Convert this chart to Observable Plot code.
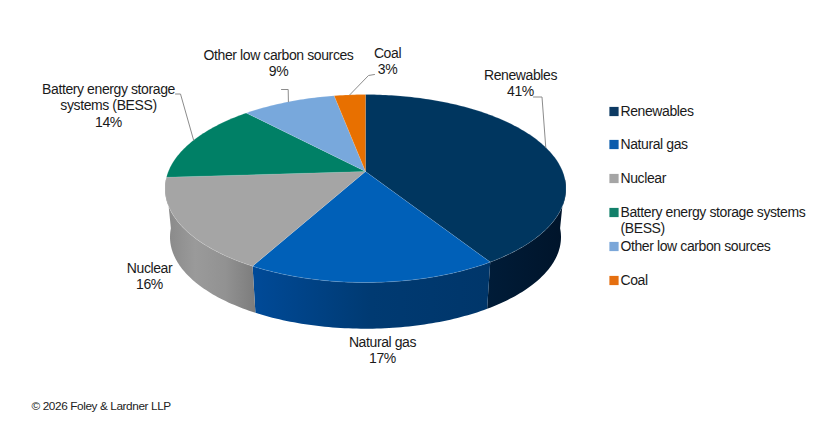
<!DOCTYPE html>
<html><head><meta charset="utf-8">
<style>html,body{margin:0;padding:0;background:#fff}svg{display:block}</style>
<script src="https://cdn.jsdelivr.net/npm/d3@7"></script>
<script src="https://cdn.jsdelivr.net/npm/@observablehq/plot@0.6"></script>
</head><body><div id="chart"></div>
<script>
const categories = ["Renewables","Natural gas","Nuclear","Battery energy storage systems (BESS)","Other low carbon sources","Coal"];
const shares = [41,17,16,14,9,3];
const colors = ["#00365f","#0060b8","#a5a5a5","#008066","#78a8dc","#e87000"];
const legendColors = ["#0c3a63","#0b5cad","#a5a5a5","#12806a","#7ba7d9","#e56f10"];
const sideStops = [["#001c38","#00142a"],["#004a98","#003a72","#00366a"],["#888888","#9a9a9a","#929292","#7c7c7c"]];
const labelText = ["Renewables\n41%","Natural gas\n17%","Nuclear\n16%","Battery energy storage\nsystems (BESS)\n14%","Other low carbon sources\n9%","Coal\n3%"];
const legendText = ["Renewables","Natural gas","Nuclear","Battery energy storage systems\n(BESS)","Other low carbon sources","Coal"];
// layout
const labelPos = [[520,82.5],[382,349.5],[149,275],[108,104.5],[278,62],[387,60]];
const elbows = [[[541.5,96.5],[533,96.5]],null,null,[[180,93.5],[175,93.5]],[[287.7,89],[281,89]],[[368,75],[374,74]]];
const legendY = [111,144,178,212,246,280];
const legendTextY = [110,143,177,219.5,245,279];
const view = {cx:365, cy:171, A:197.2, B:90.9, k:0.181, drop:49, shrink:0.975};

const project = (deg, base) => {
  const t = deg*Math.PI/180, u = Math.sin(t), v = Math.cos(t), w = 1+view.k*v;
  const s = base ? view.shrink : 1, dy = base ? view.drop : 0;
  return [view.cx + s*view.A*u/w, view.cy + dy - s*view.B*v/w];
};
const total = d3.sum(shares);
let run = 0;
const slices = categories.map((name,i)=>{ const a=run/total*360; run+=shares[i]; return {name,i,a,b:run/total*360,mid:(a+run/total*360)/2}; });
const arc = (a,b,base) => { const n=Math.max(2,Math.ceil((b-a)/1)); return d3.range(n+1).map(j=>project(a+(b-a)*j/n,base)); };
const toRows = (pts,name) => pts.map(([x,y])=>({x,y,name}));
const topRows = slices.flatMap(s=>toRows([[view.cx,view.cy],...arc(s.a,s.b,false)],s.name));
const walls = slices.map((s)=>{
  const a=Math.max(s.a,95), b=Math.min(s.b,265);
  return b>a ? toRows([...arc(a,b,false),...arc(a,b,true).reverse()],s.name) : [];
});
const leaderRows = slices.flatMap((s,i)=> elbows[i] ? [project(s.mid,false),...elbows[i]].map(([x,y])=>({x,y,name:s.name})) : []);
const labels = labelText.map((t,i)=>({t,x:labelPos[i][0],y:labelPos[i][1]}));
const legendRows = categories.map((name,i)=>({name,t:legendText[i],y:legendY[i],ty:legendTextY[i],fill:legendColors[i]}));
const font = {fontFamily:"Liberation Sans, Arial, sans-serif",fontSize:14,fill:"#1a1a1a",lineHeight:1.17};
const defs = () => {
  const d = d3.create("svg:defs");
  sideStops.forEach((st,i)=>{
    const g = d.append("linearGradient").attr("id","side"+i);
    st.forEach((c,j)=>g.append("stop").attr("offset",j/(st.length-1)).attr("stop-color",c));
  });
  return d.node();
};
const chart = Plot.plot({
  width:829,height:437,margin:0,
  style:{background:"#fff",letterSpacing:"-0.4px"},
  x:{domain:[0,829],range:[0,829],axis:null},
  y:{domain:[0,437],range:[0,437],axis:null},
  color:{domain:categories,range:colors},
  marks:[
    defs,
    ...walls.map((w,i)=>w.length?Plot.line(w,{x:"x",y:"y",fill:i<3?`url(#side${i})`:colors[i],stroke:"none"}):null),
    Plot.line(topRows,{x:"x",y:"y",fill:"name",stroke:"#fff",strokeOpacity:0.25,strokeWidth:0.6}),
    Plot.line(leaderRows,{x:"x",y:"y",z:"name",stroke:"#8c8c8c",strokeWidth:1,curve:"linear"}),
    Plot.text(labels,{x:"x",y:"y",text:"t",textAnchor:"middle",...font}),
    Plot.dot(legendRows,{x:()=>613.5,y:"y",symbol:"square",r:5.2,fill:"fill",stroke:"none"}),
    Plot.text(legendRows,{x:()=>620,y:"ty",text:"t",textAnchor:"start",...font}),
    Plot.text(["© 2026 Foley & Lardner LLP"],{x:()=>31,y:()=>406,text:d=>d,textAnchor:"start",fontFamily:font.fontFamily,fontSize:11.8,fill:"#222"})
  ]
});
document.getElementById("chart").append(chart);
</script></body></html>
